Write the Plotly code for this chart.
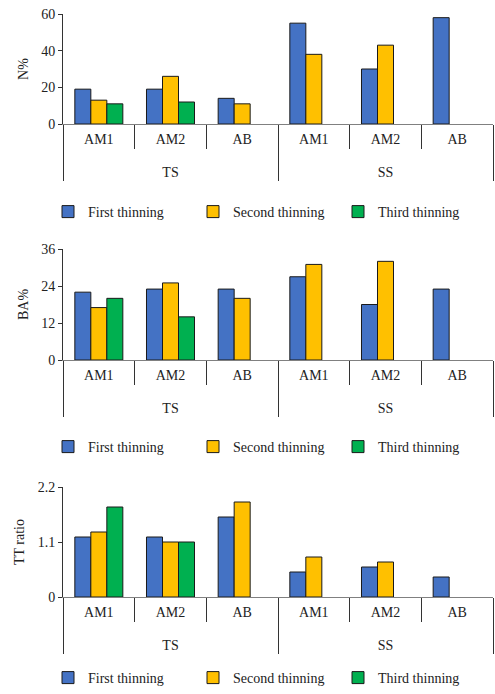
import plotly.graph_objects as go
from plotly.subplots import make_subplots

groups = ["TS", "TS", "TS", "SS", "SS", "SS"]
stands = ["AM1", "AM2", "AB", "AM1", "AM2", "AB"]
series_names = ["First thinning", "Second thinning", "Third thinning"]

n_first = [19, 19, 14, 55, 30, 58]
n_second = [13, 26, 11, 38, 43, None]
n_third = [11, 12, None, None, None, None]

ba_first = [22, 23, 23, 27, 18, 23]
ba_second = [17, 25, 20, 31, 32, None]
ba_third = [20, 14, None, None, None, None]

tt_first = [1.2, 1.2, 1.6, 0.5, 0.6, 0.4]
tt_second = [1.3, 1.1, 1.9, 0.8, 0.7, None]
tt_third = [1.8, 1.1, None, None, None, None]

y_titles = ["N%", "BA%", "TT ratio"]
y_ranges = [[0, 60], [0, 36], [0, 2.2]]
y_dticks = [20, 12, 1.1]

colors = ["#4472C4", "#FFC000", "#00B050"]
FONT = "Liberation Serif"
H = 694
W = 495

panels = [
    [n_first, n_second, n_third],
    [ba_first, ba_second, ba_third],
    [tt_first, tt_second, tt_third],
]

# outer-level labels are pushed one line lower (blank first line)
outer_labels = ["<br>" + g for g in groups]

fig = make_subplots(rows=3, cols=1)

legend_names = ["legend", "legend2", "legend3"]
for r, data in enumerate(panels, start=1):
    for s, vals in enumerate(data):
        fig.add_trace(
            go.Bar(
                x=[outer_labels, stands],
                y=vals,
                name=series_names[s],
                marker=dict(color=colors[s], line=dict(color="#1a1a1a", width=1)),
                legend=legend_names[r - 1],
            ),
            row=r, col=1,
        )

# plot areas in pixels (top, bottom)
areas = [(14, 124), (249, 360), (487, 597)]
legend_y = [212, 447, 685]
x0, x1 = 63, 493

for i, (top, bot) in enumerate(areas):
    xa = "xaxis" if i == 0 else f"xaxis{i+1}"
    ya = "yaxis" if i == 0 else f"yaxis{i+1}"
    fig.layout[xa].update(
        domain=[x0 / W, x1 / W],
        automargin=False,
        showline=True, linecolor="#808080", linewidth=1,
        ticks="outside", tickson="boundaries", ticklen=24,
        tickcolor="#333333",
        ticklabelstandoff=2,
        showdividers=True, dividercolor="#333333", dividerwidth=1,
        tickfont=dict(family=FONT, size=14, color="#222222"),
        showgrid=False, zeroline=False,
    )
    fig.layout[ya].update(
        domain=[1 - bot / H, 1 - top / H],
        automargin=False,
        range=y_ranges[i], dtick=y_dticks[i], tick0=0,
        showline=True, linecolor="#333333", linewidth=1,
        ticks="outside", ticklen=4, tickcolor="#333333",
        showgrid=False, zeroline=False,
        tickfont=dict(family=FONT, size=14, color="#222222"),
        title=dict(text=y_titles[i], font=dict(family=FONT, size=14, color="#222222"), standoff=9),
    )
    leg = dict(
        orientation="h", x=48 / W, xanchor="left",
        y=1 - legend_y[i] / H, yanchor="middle",
        font=dict(family=FONT, size=14, color="#222222"),
        entrywidth=100, entrywidthmode="pixels",
        itemwidth=30, bgcolor="rgba(0,0,0,0)",
    )
    if i == 2:
        leg.update(y=0, yanchor="bottom")
    fig.layout[legend_names[i]] = leg

fig.update_layout(
    width=W, height=H,
    margin=dict(l=0, r=0, t=0, b=0, autoexpand=False),
    barmode="group", bargap=0.33, bargroupgap=0,
    plot_bgcolor="white", paper_bgcolor="white",
    font=dict(family=FONT, size=14, color="#222222"),
    showlegend=True,
)

fig.write_html(
    "out.html",
    config={"displayModeBar": False},
    post_script="document.body.style.margin='0';",
)
